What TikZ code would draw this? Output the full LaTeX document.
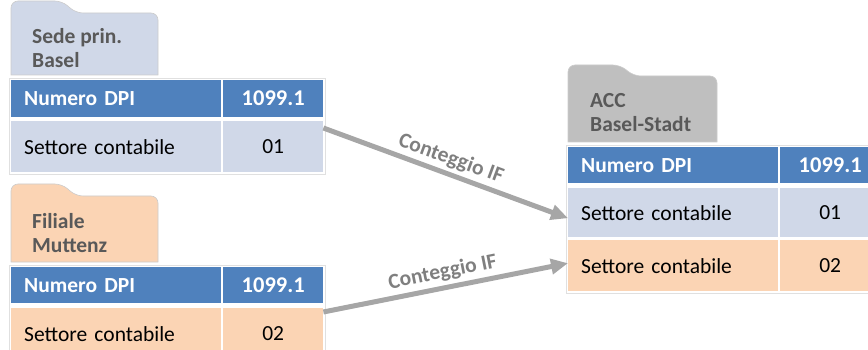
\documentclass[tikz,border=0pt]{standalone}
\usepackage{fontspec}
\setmainfont{Carlito}
\usepackage{tikz}
\usetikzlibrary{positioning, arrows.meta, calc}

\definecolor{dpiblu}{HTML}{4F81BD}
\definecolor{grigioblu}{HTML}{D0D8E8}
\definecolor{pesca}{HTML}{FBD4B4}
\definecolor{grigiocart}{HTML}{BFBFBF}
\definecolor{grigiofr}{HTML}{A6A6A6}
\definecolor{grigiotxt}{HTML}{7F7F7F}
\definecolor{testocart}{HTML}{595959}

\begin{document}
\begin{tikzpicture}[x=1pt, y=-1pt, >=Stealth,
    testo/.style={font=\fontsize{21.5}{24}\selectfont},
    cartella/.style={draw=black!20, line width=0.6pt},
    titolo/.style={testo, font=\fontsize{21.5}{24}\selectfont\bfseries, text=testocart,
        anchor=north west, inner sep=0pt, align=left},
    voce/.style={testo, anchor=north west, inner sep=0pt, inner xsep=13pt,
        text width=184pt, align=left, minimum height=#1},
    valore/.style={testo, anchor=north west, inner sep=0pt, minimum width=100pt,
        align=center, minimum height=#1},
    intest/.style={fill=dpiblu, text=white, font=\fontsize{21.5}{24}\selectfont\bfseries},
    bordo/.style={draw=black!12, line width=0.6pt},
    freccia/.style={draw=grigiofr, line width=5pt, -{Triangle[length=17pt, width=15pt]}},
    etich/.style={font=\fontsize{21.5}{24}\selectfont\bfseries, text=grigiotxt, sloped, above}
  ]
  \useasboundingbox (0,0) rectangle (868,350);

  % --- Sede principale ---
  \draw[cartella, fill=grigioblu] (11,75) [rounded corners=7pt] -- (11,1) -- (62,1)
    -- (76,13) -- (158,13) [sharp corners] -- (158,75) -- cycle;
  \node[titolo] (sT) at (32,28) {Sede prin.\\Basel};
  \node[voce=37pt, intest] (sH) at (11,80) {Numero DPI};
  \node[valore=37pt, intest, font=\fontsize{22.5}{24}\selectfont\bfseries] (sHv) at (223,80) {1099.1};
  \node[voce=51pt, fill=grigioblu] (sR) at (11,121) {Settore contabile};
  \node[valore=51pt, fill=grigioblu] (sRv) at (223,121) {01};
  \draw[bordo] ([shift={(-2pt,2pt)}]sH.north west) rectangle ([shift={(2pt,-2pt)}]sRv.south east);

  % --- Filiale ---
  \draw[cartella, fill=pesca] (11,262) [rounded corners=7pt] -- (11,184) -- (62,184)
    -- (76,196) -- (158,196) [sharp corners] -- (158,262) -- cycle;
  \node[titolo] (fT) at (32,213) {Filiale\\Muttenz};
  \node[voce=36pt, intest] (fH) at (11,267) {Numero DPI};
  \node[valore=36pt, intest, font=\fontsize{22.5}{24}\selectfont\bfseries] (fHv) at (223,267) {1099.1};
  \node[voce=51pt, fill=pesca] (fR) at (11,308) {Settore contabile};
  \node[valore=51pt, fill=pesca] (fRv) at (223,308) {02};
  \draw[bordo] ([shift={(-2pt,2pt)}]fH.north west) rectangle ([shift={(2pt,-2pt)}]fRv.south east);

  % --- ACC Basel-Stadt ---
  \draw[cartella, fill=grigiocart] (568,142) [rounded corners=7pt] -- (568,65) -- (620,65)
    -- (634,76) -- (717,76) [sharp corners] -- (717,142) -- cycle;
  \node[titolo] (aT) at (590,93) {ACC\\Basel-Stadt};
  \node[voce=36pt, intest] (aH) at (568,147) {Numero DPI};
  \node[valore=36pt, intest, font=\fontsize{22.5}{24}\selectfont\bfseries] (aHv) at (780,147) {1099.1};
  \node[voce=49pt, fill=grigioblu] (a1) at (568,188) {Settore contabile};
  \node[valore=49pt, fill=grigioblu] (a1v) at (780,188) {01};
  \node[voce=51pt, fill=pesca] (a2) at (568,240) {Settore contabile};
  \node[valore=51pt, fill=pesca] (a2v) at (780,240) {02};
  \draw[bordo] ([shift={(-2pt,2pt)}]aH.north west) rectangle ([shift={(2pt,-2pt)}]a2v.south east);

  % --- Frecce ---
  \draw[freccia] ([yshift=-7pt]sRv.north east) -- node[etich] {Conteggio IF} ([yshift=-5.5pt]a1.west);
  \draw[freccia] ([yshift=-4pt]fRv.north east) -- node[etich, above=0pt] {Conteggio IF} ([yshift=2.5pt]a2.west);
\end{tikzpicture}
\end{document}
